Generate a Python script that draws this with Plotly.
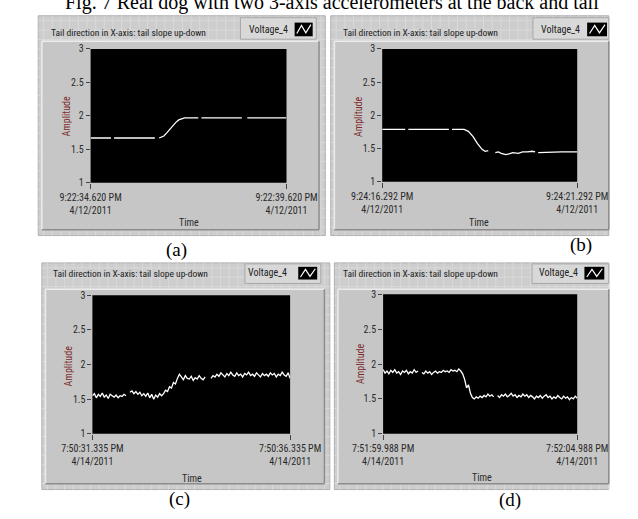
import plotly.graph_objects as go

W, H = 638, 519

# ---------------- data ----------------
# panel (a): time in s from start, amplitude (None = gap in record)
a_t = [0.00, 0.26, 0.52, 0.56, 0.60, 0.90, 1.20, 1.45, 1.64, 1.70, 1.75, 1.87, 1.95, 2.02, 2.10,
       2.17, 2.25, 2.33, 2.40, 2.60, 2.75, 2.79, 2.83, 3.20, 3.50, 3.86, 3.93, 4.00, 4.50, 5.00]
a_v = [1.67, 1.67, 1.67, None, 1.67, 1.67, 1.67, 1.67, 1.67, None, 1.67, 1.70, 1.75, 1.80, 1.85,
       1.90, 1.94, 1.96, 1.97, 1.97, 1.97, None, 1.97, 1.97, 1.97, 1.97, None, 1.97, 1.97, 1.97]

b_t = [0.00, 0.30, 0.59, 0.63, 0.67, 1.00, 1.40, 1.71, 1.75, 1.79, 2.00, 2.10, 2.21, 2.33, 2.44,
       2.56, 2.64, 2.72, 2.80, 2.90, 2.98, 3.05, 3.17, 3.25, 3.35, 3.49, 3.60, 3.72, 3.85, 3.92,
       3.96, 4.00, 4.30, 4.60, 5.00]
b_v = [1.79, 1.79, 1.79, None, 1.79, 1.79, 1.79, 1.79, None, 1.79, 1.79, 1.79, 1.76, 1.68, 1.58,
       1.49, 1.46, 1.47, None, 1.44, 1.45, 1.43, 1.41, 1.42, 1.44, 1.43, 1.45, 1.45, 1.46, 1.45,
       None, 1.44, 1.45, 1.45, 1.45]

c_v = [1.55, 1.58, 1.52, 1.57, 1.54, 1.59, 1.53, 1.56, 1.51, 1.57, 1.55, 1.53, 1.56, 1.52, 1.55,
       1.54, 1.57, 1.55, None,
       1.60, 1.62, 1.58, 1.61, 1.57, 1.60, 1.55, 1.58, 1.54, 1.59, 1.52, 1.57, 1.50, 1.56, 1.53,
       1.58, 1.55,
       1.58, 1.63, 1.61, 1.68, 1.66, 1.74, 1.72, 1.80, 1.86,
       1.82, 1.78, 1.84, 1.80, 1.79, 1.83, 1.77, 1.81, 1.79, 1.84, 1.80, 1.78, 1.82,
       None, None,
       1.80, 1.84, 1.82, 1.86, 1.83, 1.88, 1.85, 1.82, 1.87, 1.84, 1.89, 1.85, 1.83, 1.88, 1.84,
       1.86, 1.82, 1.87, 1.85, 1.89, 1.84, 1.86, 1.83, 1.88, 1.85, 1.82, 1.87, 1.84, 1.86, 1.83,
       1.88, 1.85, 1.87, 1.82, 1.86, 1.84, 1.89, 1.85, 1.83, 1.88, 1.80]

d_v = [1.92, 1.87, 1.90, 1.86, 1.91, 1.88, 1.92, 1.87, 1.89, 1.85, 1.90, 1.88, 1.91, 1.86, 1.89,
       1.87, 1.92, 1.88, 1.90, None,
       1.88, 1.86, 1.90, 1.87, 1.89, 1.85, 1.88, 1.90, 1.87, 1.89, 1.88, 1.91, 1.89, 1.90, 1.88,
       1.92, 1.90, 1.91, 1.89, 1.93, 1.90,
       1.86, 1.78, 1.66, 1.70, 1.58, 1.52, 1.50,
       1.53, 1.51, 1.54, 1.52, 1.55, 1.53, 1.57, 1.54, 1.56, 1.53,
       None,
       1.55, 1.52, 1.56, 1.54, 1.57, 1.53, 1.55, 1.58, 1.54, 1.56, 1.52, 1.55, 1.53, 1.57, 1.54,
       1.56, 1.52, 1.55, 1.53, 1.50, 1.54, 1.52, 1.55, 1.51, 1.54, 1.56, 1.52, 1.54, 1.50, 1.53,
       1.51, 1.55, 1.52, 1.50, 1.54, 1.51, 1.53, 1.49, 1.52, 1.50, 1.54, 1.51]

c_t = [5.0 * i / (len(c_v) - 1) for i in range(len(c_v))]
d_t = [5.0 * i / (len(d_v) - 1) for i in range(len(d_v))]

y_ticks = [1, 1.5, 2, 2.5, 3]
y_tick_text = ["1", "1.5", "2", "2.5", "3"]
x_labels = {
    "a": ["9:22:34.620 PM<br>4/12/2011", "9:22:39.620 PM<br>4/12/2011"],
    "b": ["9:24:16.292 PM<br>4/12/2011", "9:24:21.292 PM<br>4/12/2011"],
    "c": ["7:50:31.335 PM<br>4/14/2011", "7:50:36.335 PM<br>4/14/2011"],
    "d": ["7:51:59.988 PM<br>4/14/2011", "7:52:04.988 PM<br>4/14/2011"],
}
graph_title = "Tail direction in X-axis: tail slope up-down"
legend_name = "Voltage_4"
captions = ["(a)", "(b)", "(c)", "(d)"]
fig_caption = "Fig. 7 Real dog with two 3-axis accelerometers at the back and tail"

# ---------------- layout geometry (pixels) ----------------
def X(px):
    return px / W

def Y(py):
    return 1 - py / H

panels = [
    dict(key="a", t=a_t, v=a_v, outer=(8, 10, 326, 235), inner=(12, 36, 319, 229),
         plot=(66, 44, 283, 181), title=(20, 27), leg=(232, 12, 316, 34), icon=(292, 17, 312, 31),
         legtext=(263, 24), amp=(39, 113), time=(175, 222), cap=(161, 250)),
    dict(key="b", t=b_t, v=b_v, outer=(332, 10, 640, 235), inner=(336, 36, 640, 229),
         plot=(389, 44, 605, 180), title=(343, 27), leg=(556, 12, 640, 34), icon=(616, 17, 638, 31),
         legtext=(586, 24), amp=(363, 113), time=(496, 222), cap=(609, 245)),
    dict(key="c", t=c_t, v=c_v, outer=(12, 263, 331, 495), inner=(16, 290, 325, 489),
         plot=(68, 296, 287, 438), title=(22, 274), leg=(237, 264, 321, 284), icon=(296, 267, 317, 280),
         legtext=(262, 273), amp=(42, 368), time=(178, 484), cap=(165, 505)),
    dict(key="d", t=d_t, v=d_v, outer=(336, 263, 640, 495), inner=(340, 290, 640, 489),
         plot=(390, 295, 605, 438), title=(343, 274), leg=(555, 264, 640, 284), icon=(613, 267, 635, 280),
         legtext=(584, 273), amp=(365, 366), time=(500, 483), cap=(531, 506)),
]

FONT = "Liberation Sans Narrow, Roboto Condensed, Arial Narrow, Roboto, sans-serif"
SERIF = "Liberation Serif, Times New Roman, serif"

fig = go.Figure()
shapes = []
annotations = []
layout_axes = {}

def rect(x0, y0, x1, y1, fill, line=None, lw=0):
    return dict(type="rect", xref="paper", yref="paper", x0=X(x0), x1=X(x1), y0=Y(y1), y1=Y(y0),
                fillcolor=fill, line=dict(color=line or fill, width=lw), layer="below")

def seg(x0, y0, x1, y1, color, lw=1):
    return dict(type="line", xref="paper", yref="paper", x0=X(x0), x1=X(x1), y0=Y(y0), y1=Y(y1),
                line=dict(color=color, width=lw), layer="below")

for i, p in enumerate(panels):
    n = "" if i == 0 else str(i + 1)
    ox0, oy0, ox1, oy1 = p["outer"]
    shapes.append(rect(ox0, oy0, ox1, oy1, "#cdcdcd", "#b0b0b0", 1))
    # faint front-panel grid
    path = ""
    gx = ox0 + 6
    while gx < ox1:
        path += f"M{X(gx):.5f},{Y(oy0):.5f}L{X(gx):.5f},{Y(oy1):.5f}"
        gx += 9.6
    gy = oy0 + 5
    while gy < oy1:
        path += f"M{X(ox0):.5f},{Y(gy):.5f}L{X(ox1):.5f},{Y(gy):.5f}"
        gy += 9.6
    shapes.append(dict(type="path", xref="paper", yref="paper", path=path,
                       line=dict(color="#d9d9d9", width=1), layer="below"))
    # raised graph frame
    ix0, iy0, ix1, iy1 = p["inner"]
    shapes.append(rect(ix0, iy0, ix1, iy1, "#c6c6c6"))
    shapes.append(seg(ix0, iy0, ix1, iy0, "#ececec", 1.5))
    shapes.append(seg(ix0, iy0, ix0, iy1, "#ececec", 1.5))
    shapes.append(seg(ix0, iy1, ix1, iy1, "#8c8c8c", 1.5))
    shapes.append(seg(ix1, iy0, ix1, iy1, "#8c8c8c", 1.5))
    # black plotting area
    px0, py0, px1, py1 = p["plot"]
    shapes.append(rect(px0, py0, px1, py1, "#000000"))
    # legend plate
    lx0, ly0, lx1, ly1 = p["leg"]
    shapes.append(rect(lx0, ly0, lx1, ly1, "#d8d8d8", "#a8a8a8", 1))
    cx0, cy0, cx1, cy1 = p["icon"]
    shapes.append(rect(cx0, cy0, cx1, cy1, "#000000"))
    w = cx1 - cx0
    hh = cy1 - cy0
    zz = [(cx0 + 0.12 * w, cy1 - 0.2 * hh), (cx0 + 0.38 * w, cy0 + 0.2 * hh),
          (cx0 + 0.62 * w, cy1 - 0.25 * hh), (cx0 + 0.9 * w, cy0 + 0.15 * hh)]
    zpath = "M" + "L".join(f"{X(a):.5f},{Y(b):.5f}" for a, b in zz)
    shapes.append(dict(type="path", xref="paper", yref="paper", path=zpath,
                       line=dict(color="white", width=1.2), layer="above"))

    # data trace
    fig.add_trace(go.Scatter(x=p["t"], y=p["v"], mode="lines", connectgaps=False,
                             line=dict(color="white", width=1.3), hoverinfo="skip",
                             showlegend=False, xaxis="x" + n, yaxis="y" + n))
    layout_axes["xaxis" + n] = dict(domain=[X(px0), X(px1)], range=[0, 5], anchor="y" + n,
                                    tickvals=[0, 5], ticktext=x_labels[p["key"]],
                                    ticks="outside", ticklen=5, tickcolor="#444", tickwidth=1,
                                    showgrid=False, zeroline=False, showline=False,
                                    tickfont=dict(family=FONT, size=10, color="#2a2a2a"),
                                    fixedrange=True)
    layout_axes["yaxis" + n] = dict(domain=[Y(py1), Y(py0)], range=[1, 3], anchor="x" + n,
                                    tickvals=y_ticks, ticktext=y_tick_text,
                                    ticks="outside", ticklen=4, tickcolor="#444", tickwidth=1,
                                    showgrid=False, zeroline=False, showline=False,
                                    tickfont=dict(family=FONT, size=10, color="#2a2a2a"),
                                    fixedrange=True)

    annotations.append(dict(text=graph_title, x=X(p["title"][0]), y=Y(p["title"][1]),
                            xref="paper", yref="paper", xanchor="left", yanchor="middle",
                            showarrow=False, font=dict(family=FONT, size=9.5, color="#222")))
    annotations.append(dict(text=legend_name, x=X(p["legtext"][0]), y=Y(p["legtext"][1]),
                            xref="paper", yref="paper", xanchor="center", yanchor="middle",
                            showarrow=False, font=dict(family=FONT, size=10, color="#222")))
    annotations.append(dict(text="Amplitude", x=X(p["amp"][0]), y=Y(p["amp"][1]), textangle=-90,
                            xref="paper", yref="paper", xanchor="center", yanchor="middle",
                            showarrow=False, font=dict(family=FONT, size=10, color="#7d2a2a")))
    annotations.append(dict(text="Time", x=X(p["time"][0]), y=Y(p["time"][1]),
                            xref="paper", yref="paper", xanchor="center", yanchor="middle",
                            showarrow=False, font=dict(family=FONT, size=10, color="#2a2a2a")))
    annotations.append(dict(text=captions[i], x=X(p["cap"][0]), y=Y(p["cap"][1]),
                            xref="paper", yref="paper", xanchor="center", yanchor="middle",
                            showarrow=False, font=dict(family=SERIF, size=19, color="#000")))

annotations.append(dict(text=fig_caption, x=X(35), y=Y(-4), xref="paper", yref="paper",
                        xanchor="left", yanchor="middle", showarrow=False,
                        font=dict(family=SERIF, size=20, color="#000")))

fig.update_layout(width=W, height=H, autosize=False,
                  margin=dict(l=0, r=0, t=0, b=0, pad=0),
                  paper_bgcolor="white", plot_bgcolor="black",
                  shapes=shapes, annotations=annotations, **layout_axes)

fig.write_html("out.html")
